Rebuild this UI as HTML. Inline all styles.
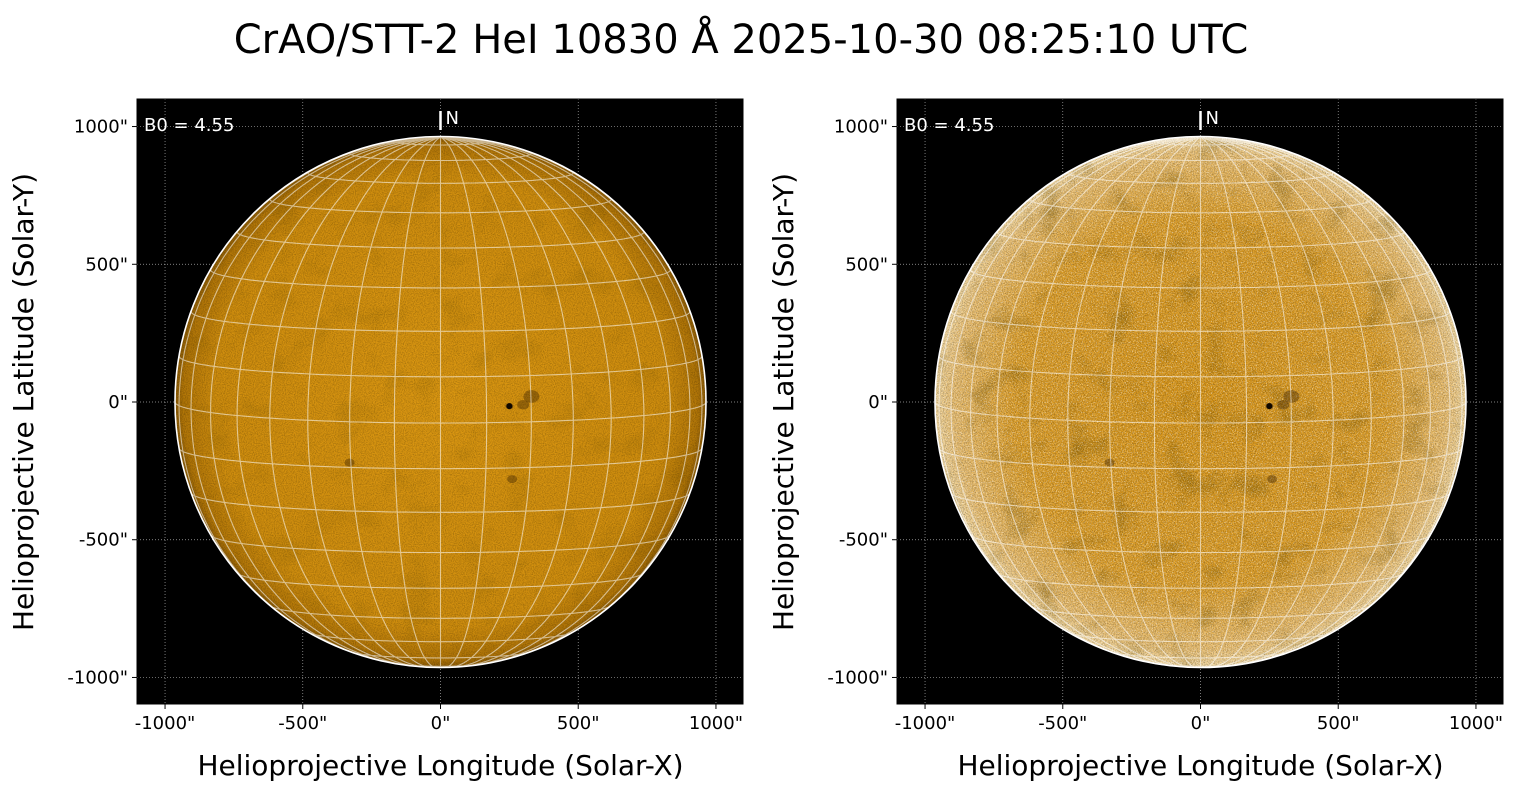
<!DOCTYPE html>
<html><head><meta charset="utf-8"><style>
body{margin:0;background:#fff;width:1520px;height:795px;overflow:hidden;font-family:"Liberation Sans","DejaVu Sans",sans-serif}
</style></head><body>
<svg id="s" width="1520" height="795" xmlns="http://www.w3.org/2000/svg" font-family="DejaVu Sans, Liberation Sans, sans-serif">
<defs>
<radialGradient id="gL" cx="0.5" cy="0.5" r="0.5">
<stop offset="0" stop-color="#dc9812"/><stop offset="0.85" stop-color="#d08e0e"/><stop offset="0.97" stop-color="#b27608"/><stop offset="1" stop-color="#8a5a06"/>
</radialGradient>
<radialGradient id="gR" cx="0.5" cy="0.5" r="0.5">
<stop offset="0" stop-color="#dc9818"/><stop offset="0.7" stop-color="#e0a028"/><stop offset="0.93" stop-color="#ecc070"/><stop offset="1" stop-color="#f4d9a0"/>
</radialGradient>
<filter id="nz" x="0" y="0" width="100%" height="100%">
<feTurbulence type="fractalNoise" baseFrequency="0.9" numOctaves="2" seed="3"/>
<feColorMatrix type="matrix" values="0 0 0 0 0  0 0 0 0 0  0 0 0 0 0  1.2 0 0 0 -0.45"/>
</filter>
<filter id="nz2" x="0" y="0" width="100%" height="100%">
<feTurbulence type="fractalNoise" baseFrequency="0.8" numOctaves="2" seed="7"/>
<feColorMatrix type="matrix" values="0 0 0 0 1  0 0 0 0 1  0 0 0 0 1  3 0 0 0 -1.5"/>
</filter>
<filter id="blob" x="0" y="0" width="100%" height="100%">
<feTurbulence type="fractalNoise" baseFrequency="0.03" numOctaves="3" seed="11"/>
<feColorMatrix type="matrix" values="0 0 0 0 0.2  0 0 0 0 0.1  0 0 0 0 0  -2.2 0 0 0 1.0"/>
</filter>
<clipPath id="cL"><circle cx="440.5" cy="402" r="265.5"/></clipPath>
<clipPath id="cR"><circle cx="1200.5" cy="402" r="265.5"/></clipPath>
</defs>
<text x="741" y="53" font-size="40" text-anchor="middle" fill="#000">CrAO/STT-2 HeI 10830 Å 2025-10-30 08:25:10 UTC</text>
<g id="axes"></g>
</svg>
<script>
const s=document.getElementById('s'),ax=document.getElementById('axes');
const NS='http://www.w3.org/2000/svg';
function el(t,a,p){const e=document.createElementNS(NS,t);for(const k in a)e.setAttribute(k,a[k]);(p||ax).appendChild(e);return e;}
function panel(x0,side){
 const y0=99,w=606,cx=x0+303.5,cy=402,R=265.5,k=606/2200;
 el('rect',{x:x0,y:y0,width:w,height:605,fill:'#000'});
 [-1000,-500,0,500,1000].forEach(v=>{
  const px=cx+v*k,py=cy-v*k;
  el('line',{x1:px,y1:y0,x2:px,y2:y0+605,stroke:'#aaa','stroke-width':0.7,'stroke-dasharray':'1,2'});
  el('line',{x1:x0,y1:py,x2:x0+w,y2:py,stroke:'#aaa','stroke-width':0.7,'stroke-dasharray':'1,2'});
 });
 const g=el('g',{'clip-path':'url(#c'+side+')'});
 el('circle',{cx:cx,cy:cy,r:R,fill:'url(#g'+side+')'},g);
 el('rect',{x:cx-R,y:cy-R,width:2*R,height:2*R,filter:'url(#blob)',opacity:side=='L'?0.25:0.5},g);
 el('rect',{x:cx-R,y:cy-R,width:2*R,height:2*R,filter:'url(#nz)',opacity:side=='L'?0.45:0.6},g);
 if(side=='R'){el('rect',{x:cx-R,y:cy-R,width:2*R,height:2*R,filter:'url(#nz2)',opacity:0.6},g);}
 [[250,-15,4],[330,20,8],[-330,-220,5],[260,-280,5],[300,-10,6]].forEach(p=>{
  el('ellipse',{cx:cx+p[0]*k,cy:cy-p[1]*k,rx:p[2],ry:p[2]*0.8,fill:'#3a2000',opacity:0.4},g);
 });
 el('circle',{cx:cx+250*k,cy:cy+15*k,r:3,fill:'#100800'},g);
 const B0=4.55*Math.PI/180;
 function proj(lat,lon){lat*=Math.PI/180;lon*=Math.PI/180;
  const x=Math.cos(lat)*Math.sin(lon);
  const y=Math.sin(lat)*Math.cos(B0)-Math.cos(lat)*Math.cos(lon)*Math.sin(B0);
  const z=Math.sin(lat)*Math.sin(B0)+Math.cos(lat)*Math.cos(lon)*Math.cos(B0);
  return [cx+x*R,cy-y*R,z];}
 let d='';
 for(let lat=-80;lat<=80;lat+=10){let st=true;for(let lon=-90;lon<=90;lon+=2){const p=proj(lat,lon);if(p[2]<0){st=true;continue;}d+=(st?'M':'L')+p[0].toFixed(1)+','+p[1].toFixed(1);st=false;}}
 for(let lon=-90;lon<=90;lon+=10){let st=true;for(let lat=-90;lat<=90;lat+=2){const p=proj(lat,lon);if(p[2]<0){st=true;continue;}d+=(st?'M':'L')+p[0].toFixed(1)+','+p[1].toFixed(1);st=false;}}
 el('path',{d:d,fill:'none',stroke:'#fff','stroke-opacity':0.55,'stroke-width':1.1});
 el('circle',{cx:cx,cy:cy,r:R,fill:'none',stroke:'#fff','stroke-width':1.6});
 el('line',{x1:cx,y1:111,x2:cx,y2:130,stroke:'#fff','stroke-width':2.5});
 el('text',{x:cx+5,y:124,'font-size':18,fill:'#fff'}).textContent='N';
 el('text',{x:x0+7,y:131,'font-size':18,fill:'#fff'}).textContent='B0 = 4.55';
 el('rect',{x:x0,y:y0,width:w,height:605,fill:'none',stroke:'#000','stroke-width':1});
 [-1000,-500,0,500,1000].forEach(v=>{
  const px=cx+v*k,py=cy-v*k;
  el('line',{x1:px,y1:704,x2:px,y2:709,stroke:'#000'});
  el('text',{x:px,y:729,'font-size':18,'text-anchor':'middle'}).textContent=v+'"';
  el('line',{x1:x0-5,y1:py,x2:x0,y2:py,stroke:'#000'});
  el('text',{x:x0-9,y:py+6,'font-size':18,'text-anchor':'end'}).textContent=v+'"';
 });
 el('text',{x:cx,y:775,'font-size':28,'text-anchor':'middle'}).textContent='Helioprojective Longitude (Solar-X)';
 const t=el('text',{x:0,y:0,'font-size':28,'text-anchor':'middle',transform:'translate('+(x0-104)+',402) rotate(-90)'});t.textContent='Helioprojective Latitude (Solar-Y)';
}
panel(137,'L');panel(897,'R');
</script>
</body></html>
